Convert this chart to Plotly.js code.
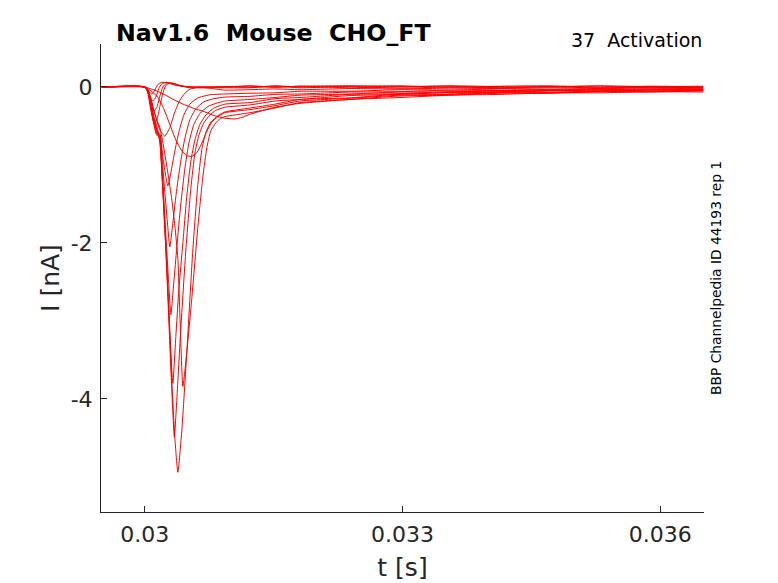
<!DOCTYPE html>
<html>
<head>
<meta charset="utf-8">
<script src="https://cdn.plot.ly/plotly-3.0.1.min.js"></script>
<style>html,body{margin:0;padding:0;background:#fff;}#chart{width:778px;height:583px;}</style>
</head>
<body>
<div id="chart"></div>
<script>
// ---- data (time in s, current in nA) ----
const tailT = [0.031223,0.031515,0.031806,0.032388,0.032971,0.033553,0.034136,0.034718,0.035301,0.035883,0.0365];

const t1 = [0.0295,0.03,0.030035,0.03007,0.030105,0.03014,0.030175,0.03021,0.030245,0.03028,0.030315,0.03035,0.030385,0.030431,0.030489,0.030559,0.030617,0.030664,0.030711,0.030769,0.03085,0.030932];
const i1 = [0,0,-0.04,-0.2,-0.4,-0.55,-0.7,-1.3,-2.0,-2.9,-3.8,-4.5,-4.94,-4.4,-3.4,-2.09,-1.25,-0.8,-0.58,-0.45,-0.37,-0.32];
const tail1 = [-0.27,-0.22,-0.16,-0.14,-0.09,-0.09,-0.06,-0.07,-0.05,-0.055,-0.04];

const t2 = [0.0295,0.03,0.030035,0.03007,0.030105,0.03014,0.030175,0.03021,0.030245,0.03028,0.030315,0.030344,0.030373,0.030419,0.030478,0.030536,0.030583,0.030629,0.030687,0.030757,0.030827,0.030932];
const i2 = [0,0,-0.04,-0.19,-0.38,-0.5,-0.68,-1.35,-2.1,-3.0,-3.9,-4.49,-4.0,-3.1,-2.09,-1.3,-0.85,-0.62,-0.46,-0.36,-0.3,-0.26];
const tail2 = [-0.23,-0.18,-0.16,-0.11,-0.095,-0.07,-0.07,-0.05,-0.055,-0.04,-0.045];

const t3 = [0.0295,0.03,0.030035,0.03007,0.030105,0.03014,0.030175,0.030221,0.030268,0.030315,0.03035,0.030385,0.030408,0.030443,0.030489,0.030548,0.030617,0.030676,0.030722,0.030769,0.030827,0.030874,0.030932];
const i3 = [0,0,-0.03,-0.15,-0.3,-0.42,-0.52,-0.78,-1.1,-1.45,-1.78,-2.2,-2.9,-3.84,-3.4,-2.7,-1.8,-1.15,-0.78,-0.56,-0.46,-0.41,-0.38];
const tail3 = [-0.33,-0.27,-0.2,-0.16,-0.115,-0.105,-0.08,-0.08,-0.06,-0.065,-0.05];

const t4 = [0.0295,0.03,0.030035,0.03007,0.030105,0.03014,0.030175,0.03021,0.030245,0.03028,0.030326,0.030361,0.030396,0.030443,0.030489,0.030536,0.030583,0.030641,0.030711,0.030804,0.030932];
const i4 = [0,0,-0.04,-0.21,-0.42,-0.55,-0.68,-1.3,-2.05,-2.85,-3.8,-3.2,-2.6,-2.0,-1.4,-0.95,-0.68,-0.48,-0.36,-0.27,-0.22];
const tail4 = [-0.2,-0.15,-0.135,-0.095,-0.085,-0.06,-0.06,-0.045,-0.05,-0.035,-0.04];

const t5 = [0.0295,0.03,0.030035,0.03007,0.030105,0.03014,0.030175,0.03021,0.030245,0.03028,0.030303,0.030338,0.030373,0.030419,0.030466,0.030513,0.030571,0.030641,0.030734,0.030827,0.030932];
const i5 = [0,0,-0.04,-0.22,-0.44,-0.58,-0.65,-1.2,-1.9,-2.55,-2.92,-2.5,-2.05,-1.5,-1.05,-0.72,-0.48,-0.34,-0.25,-0.21,-0.18];
const tail5 = [-0.16,-0.135,-0.105,-0.09,-0.065,-0.065,-0.045,-0.05,-0.035,-0.04,-0.03];

const t6 = [0.0295,0.03,0.030035,0.03007,0.030105,0.03014,0.030175,0.03021,0.030245,0.030268,0.030291,0.030326,0.030373,0.030419,0.030466,0.030524,0.030594,0.030687,0.030804,0.030932];
const i6 = [0,0,-0.05,-0.24,-0.46,-0.6,-0.62,-1.05,-1.5,-1.8,-2.05,-1.75,-1.3,-0.95,-0.66,-0.42,-0.28,-0.19,-0.15,-0.13];
const tail6 = [-0.12,-0.095,-0.09,-0.065,-0.06,-0.04,-0.045,-0.03,-0.035,-0.025,-0.03];

const t7 = [0.0295,0.03,0.030035,0.03007,0.030105,0.03014,0.030175,0.03021,0.030245,0.030268,0.030303,0.03035,0.030396,0.030454,0.030524,0.030617,0.030757,0.030932];
const i7 = [0,0,-0.05,-0.25,-0.48,-0.62,-0.6,-0.9,-1.15,-1.27,-1.1,-0.82,-0.58,-0.36,-0.22,-0.14,-0.1,-0.09];
const tail7 = [-0.08,-0.075,-0.055,-0.055,-0.035,-0.04,-0.025,-0.03,-0.02,-0.025,-0.015];

const t8 = [0.0295,0.03,0.030035,0.030082,0.030151,0.030221,0.030291,0.030361,0.030431,0.030489,0.030548,0.030606,0.030664,0.030722,0.03078,0.03085,0.030932];
const i8 = [0,0,-0.02,-0.06,-0.13,-0.28,-0.48,-0.68,-0.82,-0.88,-0.89,-0.84,-0.72,-0.57,-0.45,-0.38,-0.33];
const tail8 = [-0.29,-0.24,-0.18,-0.145,-0.105,-0.095,-0.075,-0.075,-0.055,-0.06,-0.045];

const t9 = [0.0295,0.03,0.030035,0.03007,0.030117,0.030175,0.030233,0.030291,0.03035,0.030408,0.030466,0.030524,0.030641,0.03078,0.030932];
const i9 = [0,0,-0.05,-0.15,-0.35,-0.55,-0.63,-0.52,-0.32,-0.17,-0.08,-0.03,0.0,-0.02,-0.04];
const tail9 = [-0.035,-0.025,-0.035,-0.02,-0.025,-0.015,-0.02,-0.01,-0.015,-0.005,-0.015];

const t10 = [0.0295,0.03,0.030058,0.030117,0.030233,0.03035,0.030466,0.030583,0.030699,0.030816,0.030932,0.031049,0.03113];
const i10 = [0,0,-0.02,-0.04,-0.1,-0.17,-0.23,-0.28,-0.32,-0.37,-0.4,-0.41,-0.39];
const tail10 = [-0.35,-0.26,-0.21,-0.16,-0.135,-0.105,-0.095,-0.075,-0.075,-0.06,-0.065];

const t11 = [0.0295,0.03,0.030035,0.03007,0.030105,0.03014,0.030175,0.03021,0.030245,0.030291,0.03035,0.030431,0.030524,0.030699,0.030932];
const i11 = [0,0,-0.08,-0.3,-0.45,-0.42,-0.25,-0.08,0.02,0.05,0.04,0.01,-0.01,-0.01,-0.01];
const tail11 = [-0.01,0.01,-0.01,0.005,-0.015,0.0,-0.01,0.005,-0.015,0.0,-0.01];

const t12 = [0.0295,0.03,0.030035,0.03007,0.030105,0.03014,0.030175,0.03021,0.030256,0.030315,0.030408,0.030524,0.030699,0.030932];
const i12 = [0,0,-0.06,-0.22,-0.31,-0.26,-0.12,0.0,0.05,0.05,0.02,0.0,-0.01,0.0];
const tail12 = [0.01,-0.005,0.01,-0.01,0.005,0.01,-0.01,0.005,0.01,-0.01,0.0];

const t13 = [0.0295,0.03,0.030035,0.03007,0.030093,0.030128,0.030163,0.030198,0.030256,0.030338,0.030431,0.030583,0.030932];
const i13 = [0,0,-0.05,-0.14,-0.18,-0.13,-0.02,0.04,0.06,0.04,0.01,0.0,0.005];
const tail13 = [-0.005,0.015,0,0.01,0.015,-0.005,0.01,0.015,-0.005,0.01,0.0];

const t14 = [0.0295,0.03,0.030035,0.030058,0.030082,0.030117,0.030151,0.030198,0.030268,0.030361,0.030524,0.030932];
const i14 = [0,0,-0.03,-0.07,-0.09,-0.04,0.03,0.06,0.05,0.02,0.0,0.0];
const tail14 = [0.015,0.0,0.01,0.015,0.0,0.015,0.005,0.0,0.015,0.005,0.01];

const xTickVals = [0.030, 0.033, 0.036];
const xTickText = ['0.03', '0.033', '0.036'];
const yTickVals = [-4, -2, 0];
const yTickText = ['-4', '-2', '0'];

// ---- build traces ----
const series = [
  [t1,i1,tail1],[t2,i2,tail2],[t3,i3,tail3],[t4,i4,tail4],[t5,i5,tail5],
  [t6,i6,tail6],[t7,i7,tail7],[t8,i8,tail8],[t9,i9,tail9],[t10,i10,tail10],
  [t11,i11,tail11],[t12,i12,tail12],[t13,i13,tail13],[t14,i14,tail14]
];
const traces = series.map(s => ({
  type: 'scatter', mode: 'lines',
  x: s[0].concat(tailT), y: s[1].concat(s[2]),
  line: {color: '#ff0000', width: 1, shape: 'spline', smoothing: 0.5},
  hoverinfo: 'skip', showlegend: false
}));

const axisCol = '#262626';
const font = 'DejaVu Sans, Liberation Sans, sans-serif';
const layout = {
  width: 778, height: 583,
  margin: {l: 101, r: 74, t: 44, b: 71, pad: 0},
  paper_bgcolor: '#ffffff', plot_bgcolor: '#ffffff',
  showlegend: false,
  font: {family: font, color: axisCol},
  xaxis: {
    range: [0.02949, 0.03651], tickvals: xTickVals, ticktext: xTickText,
    showline: true, linecolor: axisCol, linewidth: 1, ticks: 'inside', ticklen: 6,
    tickcolor: axisCol, showgrid: false, zeroline: false, ticklabelstandoff: 3,
    tickfont: {family: font, size: 22, color: axisCol},
    title: {text: 't [s]', font: {family: font, size: 25, color: axisCol}, standoff: 12}
  },
  yaxis: {
    range: [-5.449, 0.551], tickvals: yTickVals, ticktext: yTickText,
    showline: true, linecolor: axisCol, linewidth: 1, ticks: 'inside', ticklen: 6,
    tickcolor: axisCol, showgrid: false, zeroline: false, ticklabelstandoff: 3,
    tickfont: {family: font, size: 22, color: axisCol},
    title: {text: 'I [nA]', font: {family: font, size: 25, color: axisCol}, standoff: 3}
  },
  annotations: [
    {xref: 'paper', yref: 'paper', x: 0.0215, y: 1.0235, xanchor: 'left', yanchor: 'middle',
     text: '<b>Nav1.6\u00a0\u00a0Mouse\u00a0\u00a0CHO_FT</b>', showarrow: false,
     font: {family: font, size: 23.7, color: '#000000'}},
    {xref: 'paper', yref: 'paper', x: 1.0, y: 1.0085, xanchor: 'right', yanchor: 'middle',
     text: '37\u00a0\u00a0Activation', showarrow: false,
     font: {family: font, size: 19, color: '#000000'}},
    {xref: 'paper', yref: 'paper', x: 1.0199, y: 0.5, xanchor: 'center', yanchor: 'middle',
     text: 'BBP Channelpedia ID 44193 rep 1', textangle: -90, showarrow: false,
     font: {family: font, size: 13.8, color: '#000000'}}
  ]
};

Plotly.newPlot('chart', traces, layout, {displayModeBar: false, staticPlot: true});
</script>
</body>
</html>
